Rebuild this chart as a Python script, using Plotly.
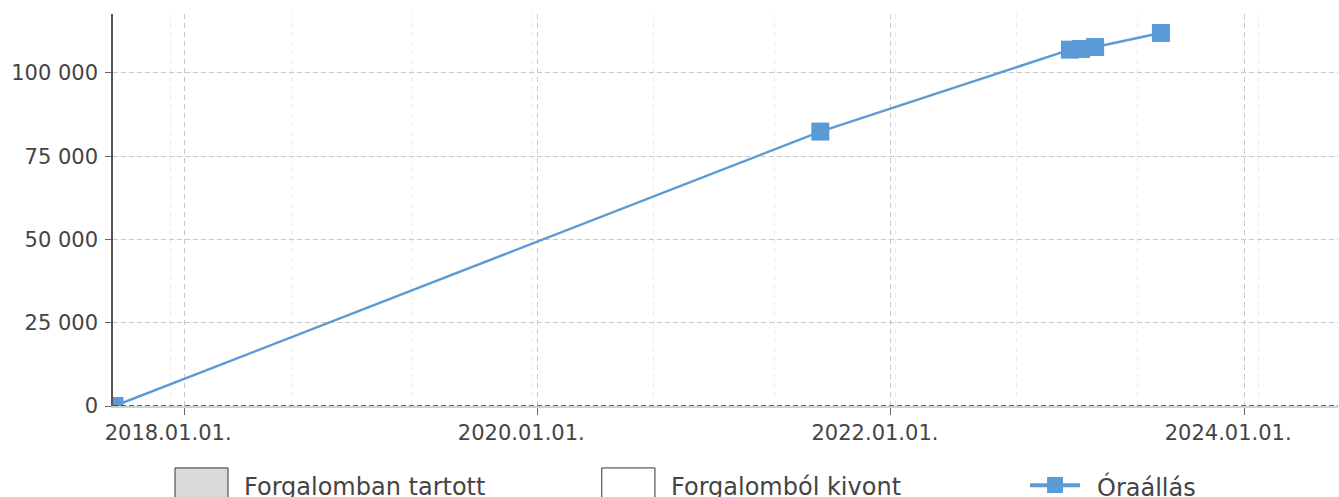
import plotly.graph_objects as go

dates = ["2017-08-10", "2021-08-08", "2023-01-06", "2023-01-29", "2023-02-27", "2023-07-13"]
values = [0, 82400, 107000, 107200, 107800, 112000]
legend_labels = ["Forgalomban tartott", "Forgalomból kivont", "Óraállás"]

BLUE = "#5b9bd5"
TXT = "#444444"
FONT = "DejaVu Sans"

fig = go.Figure()
fig.add_trace(go.Scatter(
    x=dates, y=values, mode="lines+markers", name=legend_labels[2],
    line=dict(color=BLUE, width=2.5),
    marker=dict(symbol="square", size=18, color=BLUE),
    cliponaxis=True, showlegend=False, hoverinfo="skip",
))

fig.update_layout(
    width=1339, height=497,
    margin=dict(l=113, r=1, t=14, b=91),
    paper_bgcolor="white", plot_bgcolor="white",
    separators=". ",
    font=dict(family=FONT, size=21, color=TXT),
    showlegend=False,
)

fig.update_xaxes(
    type="date",
    range=["2017-08-07", "2024-07-13"],
    tick0="2018-01-01", dtick="M24",
    tickformat="%Y.%m.%d.",
    ticks="outside", ticklen=7, tickcolor="#666666",
    ticklabelshift=-16,
    showgrid=True, gridcolor="#c8c8c8", griddash="5px,4px", gridwidth=1,
    showline=True, linecolor="#d0d0d0", linewidth=2,
    zeroline=False,
    tickfont=dict(family=FONT, size=21, color=TXT),
    minor=dict(dtick=250 * 86400000, tick0="2017-12-03", showgrid=True,
               gridcolor="#ececec", griddash="5px,4px", gridwidth=1, ticks=""),
)
fig.update_yaxes(
    range=[0, 117700],
    tick0=0, dtick=25000, tickformat=",d",
    ticks="outside", ticklen=6, tickcolor="#666666",
    ticklabelstandoff=3,
    showgrid=True, gridcolor="#c8c8c8", griddash="5px,3px", gridwidth=1,
    showline=True, linecolor="#555555", linewidth=1.5,
    zeroline=False,
    tickfont=dict(family=FONT, size=21, color=TXT),
)

# dashed dark baseline at y = 0
fig.add_shape(type="line", xref="paper", yref="y", x0=0, x1=1, y0=0, y1=0,
              layer="above", line=dict(color="#333333", width=1.5, dash="5px,3px"))

# custom legend below the plot
ly = -0.2066
fig.add_shape(type="rect", xref="paper", yref="paper", x0=0.0506, x1=0.0939,
              y0=-0.26, y1=-0.158, fillcolor="#d9d9d9", line=dict(color="#333333", width=1))
fig.add_shape(type="rect", xref="paper", yref="paper", x0=0.399, x1=0.4424,
              y0=-0.26, y1=-0.158, fillcolor="white", line=dict(color="#333333", width=1))
fig.add_shape(type="line", xref="paper", yref="paper", x0=0.7486, x1=0.7894,
              y0=-0.202, y1=-0.202, line=dict(color=BLUE, width=4))
fig.add_shape(type="rect", xref="paper", yref="paper", x0=0.7625, x1=0.7755,
              y0=-0.222, y1=-0.181, fillcolor=BLUE, line=dict(color=BLUE, width=0))
for xp, lab in zip([0.1053, 0.4539, 0.8016], legend_labels):
    fig.add_annotation(x=xp, y=ly, xref="paper", yref="paper", text=lab,
                       showarrow=False, xanchor="left", yanchor="middle",
                       font=dict(family=FONT, size=24, color=TXT))

fig.write_html("out.html", config={"displayModeBar": False},
               post_script="document.body.style.margin='0';document.body.style.overflow='hidden';")
